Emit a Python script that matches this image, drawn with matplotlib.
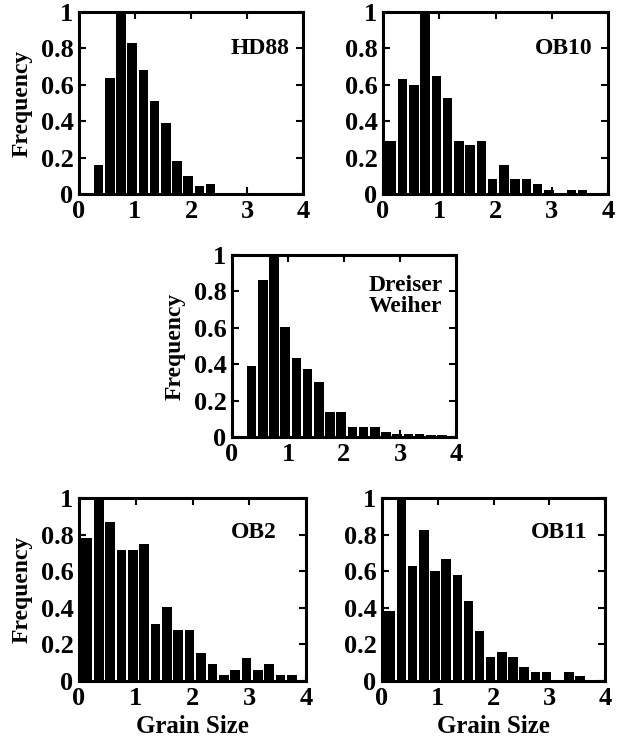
import numpy as np
import matplotlib
matplotlib.use('Agg')
import matplotlib.pyplot as plt
from matplotlib.ticker import FuncFormatter

plt.rcParams['font.family'] = ['Liberation Serif', 'DejaVu Serif']
plt.rcParams['font.weight'] = 'bold'

# bin centres (bins of 0.2 in grain size)
centers = 0.15 + 0.2 * np.arange(20)

hd88 = [0.0, 0.16, 0.64, 1.0, 0.83, 0.68, 0.51, 0.39, 0.18, 0.10,
        0.046, 0.055, 0.005, 0.0, 0.005, 0.0, 0.0, 0.0, 0.0, 0.0]
ob10 = [0.29, 0.63, 0.60, 1.0, 0.65, 0.53, 0.29, 0.27, 0.29, 0.083,
        0.16, 0.083, 0.083, 0.055, 0.024, 0.004, 0.024, 0.024, 0.0, 0.0]
dreiser = [0.0, 0.39, 0.86, 1.0, 0.605, 0.434, 0.373, 0.30, 0.135, 0.135,
           0.054, 0.054, 0.054, 0.028, 0.015, 0.015, 0.015, 0.011, 0.009, 0.0]
ob2 = [0.78, 1.0, 0.87, 0.715, 0.715, 0.746, 0.313, 0.405, 0.28, 0.28,
       0.153, 0.092, 0.033, 0.059, 0.123, 0.059, 0.092, 0.033, 0.033, 0.0]
ob11 = [0.384, 1.0, 0.631, 0.827, 0.603, 0.664, 0.578, 0.437, 0.273, 0.129,
        0.16, 0.129, 0.077, 0.05, 0.05, 0.005, 0.05, 0.028, 0.003, 0.0]

W, H = 618, 744
fig = plt.figure(figsize=(W / 100, H / 100), dpi=100)


def panel(box, vals, label, ylab=False, xlab=False, lx=0.93, ly=0.80):
    x0, y0, x1, y1 = box
    ax = fig.add_axes([x0 / W, 1 - y1 / H, (x1 - x0) / W, (y1 - y0) / H])
    w = np.full(len(centers), 0.17)
    left = centers - w / 2
    left[0] = 0.0
    w[0] = 0.23
    ax.bar(left, vals, width=w, align='edge', color='black', edgecolor='none')
    ax.set_xlim(0, 4)
    ax.set_ylim(0, 1)
    ax.set_xticks([0, 1, 2, 3, 4])
    ax.set_yticks([0, 0.2, 0.4, 0.6, 0.8, 1.0])
    ax.yaxis.set_major_formatter(FuncFormatter(lambda v, p: '%g' % v))
    ax.tick_params(direction='in', top=True, right=True, length=5, width=1.5,
                   labelsize=19, pad=4)
    for lab in ax.get_xticklabels() + ax.get_yticklabels():
        lab.set_fontweight('bold')
    for s in ax.spines.values():
        s.set_linewidth(2.2)
    ax.text(lx, ly, label, transform=ax.transAxes, ha='right', va='center',
            fontsize=17, fontweight='bold', linespacing=0.95)
    if ylab:
        ax.set_ylabel('Frequency', fontsize=17, fontweight='bold', labelpad=6)
    if xlab:
        ax.set_xlabel('Grain Size', fontsize=18, fontweight='bold', labelpad=4)
    return ax


panel((79, 12, 303, 194), hd88, 'HD88', ylab=True, lx=0.94, ly=0.80)
panel((383, 12, 608, 194), ob10, 'OB10', lx=0.93, ly=0.80)
panel((232, 255, 456, 437), dreiser, 'Dreiser\nWeiher', ylab=True, lx=0.94, ly=0.775)
panel((79, 498, 306, 681), ob2, 'OB2', ylab=True, xlab=True, lx=0.87, ly=0.81)
panel((382, 498, 605, 681), ob11, 'OB11', xlab=True, lx=0.92, ly=0.81)

fig.savefig('out.png', dpi=100)
